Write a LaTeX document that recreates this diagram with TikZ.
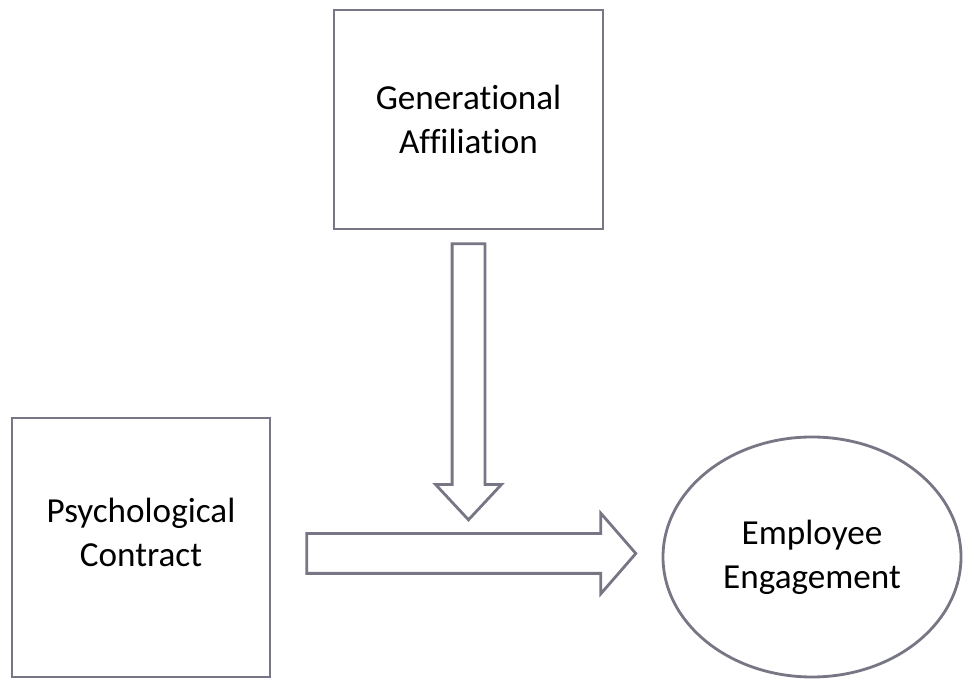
\documentclass[tikz,border=0pt]{standalone}
\usepackage{fontspec}
\setmainfont{Carlito}[Ligatures=NoCommon]
\usetikzlibrary{shapes.geometric,shapes.arrows,positioning}
\definecolor{edgegray}{RGB}{118,118,132}

\begin{document}
\begin{tikzpicture}[line width=1.6pt,
  box/.style={draw=edgegray, align=center, font=\fontsize{20}{25}\selectfont},
  blockarrow/.style={draw=edgegray, single arrow, inner sep=0pt}]
\useasboundingbox (0,0) rectangle (19.26,13.58);
\node[box, minimum width=5.38cm, minimum height=4.38cm] (gen) at (9.37,11.19) {Generational\\Affiliation};
\node[box, minimum width=5.16cm, minimum height=5.18cm, text depth=0.6cm] (psych) at (2.82,2.63) {Psychological\\Contract};
\node[box, ellipse, minimum width=5.96cm, minimum height=4.8cm] (engage) at (16.24,2.44) {Employee\\Engagement};
% moderating arrow
\node[blockarrow, inner sep=0.3cm, minimum height=5.52cm, single arrow head extend=0.33cm,
  single arrow tip angle=86, shape border rotate=270, anchor=tail] (mod) at ([yshift=-0.24cm]gen.south) {};
% main effect arrow
\node[blockarrow, inner sep=0.37cm, minimum height=6.58cm, single arrow head extend=0.41cm,
  single arrow tip angle=98, anchor=tail] (effect) at ([xshift=0.68cm,yshift=-0.12cm]psych.east) {};
\end{tikzpicture}
\end{document}
